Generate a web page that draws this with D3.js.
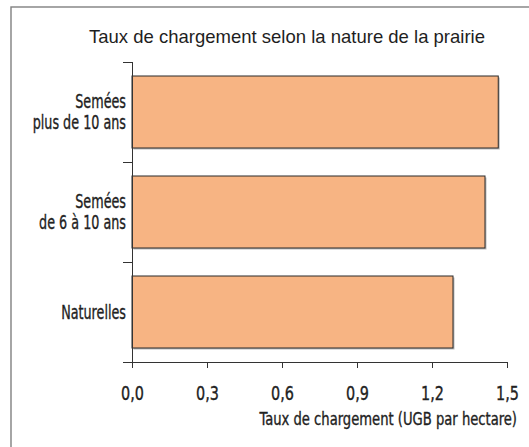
<!DOCTYPE html>
<html>
<head>
<meta charset="utf-8">
<script src="https://cdn.jsdelivr.net/npm/d3@7"></script>
<style>
  body { margin: 0; background: #fff; }
  svg text { fill: #222; }
  .cond { stroke: #222; stroke-width: 0.35px; }
</style>
</head>
<body>
<div id="chart"></div>
<script>
var categories = [["Semées", "plus de 10 ans"], ["Semées", "de 6 à 10 ans"], ["Naturelles"]];
var values = [1.465, 1.412, 1.284];
var tickValues = [0, 0.3, 0.6, 0.9, 1.2, 1.5];
var titleText = "Taux de chargement selon la nature de la prairie";
var xTitle = "Taux de chargement (UGB par hectare)";

var width = 529, height = 447;
var condFont = "'DejaVu Sans Condensed', 'DejaVu Sans', sans-serif";
var titleFont = "'Liberation Sans', Arial, sans-serif";
var plot = {left: 132, right: 507, top: 62, bottom: 362};

var svg = d3.select("#chart")
  .append("svg")
  .attr("width", width)
  .attr("height", height);

// frame, cropped on the right and bottom
svg.append("rect")
  .attr("x", 11).attr("y", 7)
  .attr("width", 540).attr("height", 460)
  .style("fill", "none")
  .style("stroke", "#808080")
  .style("stroke-width", 1.4);

svg.append("text")
  .attr("x", 89).attr("y", 43)
  .attr("textLength", 396)
  .attr("lengthAdjust", "spacingAndGlyphs")
  .style("font-family", titleFont)
  .style("font-size", "19px")
  .style("fill", "#1e1e1e")
  .text(titleText);

var x = d3.scaleLinear().domain([0, 1.5]).range([plot.left, plot.right]);
var y = d3.scaleBand()
  .domain(d3.range(categories.length))
  .range([plot.top, plot.bottom])
  .paddingInner(0.28).paddingOuter(0.14);

var bandY = d3.scaleBand().domain(d3.range(categories.length)).range([plot.top, plot.bottom]);

// bar shadow
svg.selectAll("rect.shadow")
  .data(values)
  .enter().append("rect")
  .attr("class", "shadow")
  .attr("x", x(0) + 1.5)
  .attr("y", function(d, i){ return y(i) + 1.5; })
  .attr("width", function(d){ return x(d) - x(0); })
  .attr("height", y.bandwidth())
  .style("fill", "#bbb");

svg.selectAll("rect.bar")
  .data(values)
  .enter().append("rect")
  .attr("class", "bar")
  .attr("x", x(0))
  .attr("y", function(d, i){ return y(i); })
  .attr("width", function(d){ return x(d) - x(0); })
  .attr("height", y.bandwidth())
  .style("fill", "#f7b483")
  .style("stroke", "#2a2a2a")
  .style("stroke-width", 1);

// x axis
var xAxis = svg.append("g")
  .attr("transform", "translate(0," + plot.bottom + ")")
  .call(d3.axisBottom(x).tickValues(tickValues).tickSize(6).tickSizeOuter(0)
    .tickFormat(function(d){ return d3.format(".1f")(d).replace(".", ","); }));
xAxis.select(".domain").attr("d", "M" + (plot.left - 9) + ",0.5H" + plot.right);
xAxis.selectAll("line").style("stroke", "#333");
xAxis.select(".domain").style("stroke", "#333");
xAxis.selectAll(".tick text")
  .attr("class", "cond")
  .attr("y", 0)
  .attr("dy", 0)
  .attr("transform", "translate(0,38) scale(0.8,1)")
  .style("font-family", condFont)
  .style("font-size", "20px")
  .style("fill", "#222");

svg.append("text")
  .attr("class", "cond")
  .attr("transform", "translate(517,425) scale(0.79,1)")
  .attr("text-anchor", "end")
  .style("font-family", condFont)
  .style("font-size", "18.5px")
  .text(xTitle);

// y axis line and separators
var yAxis = svg.append("g");
yAxis.append("line")
  .attr("x1", plot.left + 0.5).attr("x2", plot.left + 0.5)
  .attr("y1", plot.top).attr("y2", plot.bottom)
  .style("stroke", "#333");
yAxis.selectAll("line.sep")
  .data(d3.range(categories.length))
  .enter().append("line")
  .attr("class", "sep")
  .attr("x1", plot.left - 9).attr("x2", plot.left)
  .attr("y1", function(i){ return bandY(i) + 0.5; })
  .attr("y2", function(i){ return bandY(i) + 0.5; })
  .style("stroke", "#333");

var lineH = 21;
var labels = yAxis.selectAll("text.cat")
  .data(categories)
  .enter().append("text")
  .attr("class", "cat cond")
  .attr("text-anchor", "end")
  .style("font-family", condFont)
  .style("font-size", "20px")
  .attr("transform", function(d, i){
    var c = bandY(i) + bandY.bandwidth() / 2;
    return "translate(126," + (c + 6.5 - (d.length - 1) * lineH / 2) + ") scale(0.71,1)";
  });
labels.selectAll("tspan")
  .data(function(d){ return d; })
  .enter().append("tspan")
  .attr("x", 0)
  .attr("y", function(d, j){ return j * lineH; })
  .text(function(d){ return d; });
</script>
</body>
</html>
